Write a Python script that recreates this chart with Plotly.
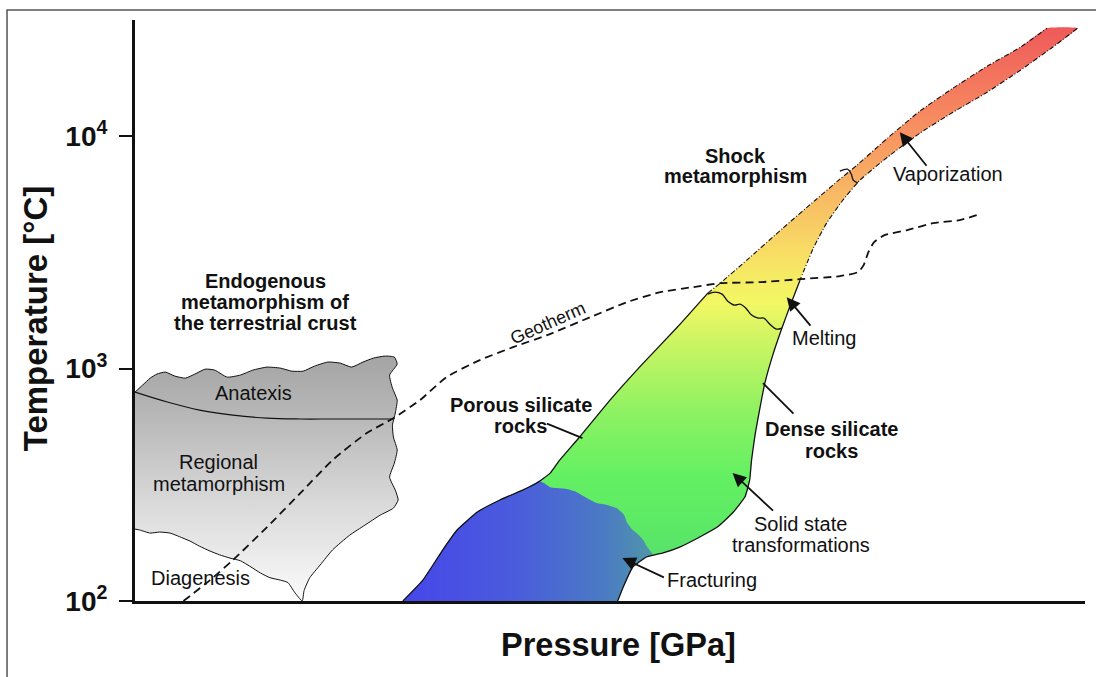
import plotly.graph_objects as go

# ---------------- data (pressure in relative units, temperature in °C) ----------------
# Endogenous metamorphism field (grey), closed outline
gray_p = [0, 0.8, 1.6, 2.3, 3.2, 4.2, 5.3, 6.3, 7.4, 8.4, 9.7, 11.1, 12.4, 13.9, 15.3, 16.5, 17.7, 18.9,
          20.3, 21.6, 22.8, 24.0, 25.1, 26.3, 27.3, 27.6, 26.8, 27.1, 27.6, 27.4, 27.1, 27.2, 27.6, 27.3,
          26.8, 27.4, 27.7, 27.2, 25.8, 24.2, 22.6, 20.8, 19.5, 18.4, 17.8, 17.6, 16.8, 16.1, 15.3, 14.2,
          13.2, 12.1, 11.1, 10.0, 8.9, 7.9, 6.8, 5.8, 4.7, 3.7, 2.6, 1.6, 0.5, 0]
gray_t = [792, 849, 910, 947, 966, 928, 910, 947, 995, 985, 919, 938, 985, 1015, 1005, 975, 975, 1025,
          1067, 1056, 1015, 1067, 1110, 1132, 1121, 1046, 938, 824, 732, 644, 571, 508, 446, 392,
          341, 300, 272, 251, 234, 212, 192, 166, 143, 126, 111, 100, 109, 120, 123, 126,
          132, 141, 149, 153, 158, 164, 172, 181, 189, 196, 198, 196, 202, 204]

anat_p = [0, 3.4, 6.8, 10.3, 13.9, 17.4, 20.8, 27.2]
anat_t = [792, 718, 663, 631, 612, 607, 607, 607]

# Shock metamorphism band
band_left_p = [28.2, 30.3, 32.4, 33.9, 36.0, 38.4, 40.8, 42.3, 43.7, 44.7, 46.8, 50.0, 53.5, 57.1, 60.3]
band_left_t = [100, 123, 166, 202, 241, 272, 300, 322, 355, 404, 508, 732, 1056, 1509, 2112]
band_upleft_p = [60.3, 61.6, 64.4, 68.2, 71.6, 74.2, 76.0, 79.2, 82.6, 86.1, 89.7, 93.2, 96.0]
band_upleft_t = [2112, 2331, 2929, 4021, 5303, 6533, 7504, 9804, 12810, 16090, 20000, 24150, 29140]
band_upright_p = [99.2, 96.6, 93.2, 89.7, 86.1, 82.6, 79.2, 76.3, 74.5, 72.8, 71.4, 70.0]
band_upright_t = [29140, 24150, 19230, 15460, 12680, 10300, 8122, 6468, 5303, 4226, 3300, 2402]
band_right_p = [70.0, 68.9, 68.1, 67.2, 66.3, 65.8, 65.3, 64.9, 64.7, 64.2, 62.9, 61.3, 59.5, 57.4,
                55.6, 53.9, 52.4, 51.4, 50.8]
band_right_t = [2402, 1838, 1494, 1166, 866, 683, 528, 404, 331, 280, 239, 208, 189, 171,
                161, 155, 140, 115, 100]

# Fracturing (blue) sub-field
blue_p = [28.2, 30.3, 32.4, 33.9, 36.0, 38.4, 40.8, 42.6, 43.7, 44.4, 45.5, 46.5, 47.6, 48.6, 49.7,
          50.7, 51.5, 51.8, 52.4, 52.8, 53.5, 53.9, 54.5, 53.9, 52.4, 51.4, 50.8]
blue_t = [100, 123, 166, 202, 241, 272, 300, 328, 309, 306, 303, 294, 277, 264, 259,
          251, 234, 217, 202, 196, 183, 171, 158, 155, 140, 115, 100]

# Melting and vaporization boundaries
melt_p = [60.3, 61.05, 61.8, 62.4, 63.1, 63.7, 64.3, 64.9, 65.6, 66.2, 66.8, 67.5, 68.1]
melt_t = [2091, 2133, 2091, 1951, 1876, 1894, 1820, 1699, 1649, 1649, 1554, 1479, 1494]
vap_p = [74.2, 75.0, 75.4, 75.6, 76.1]
vap_t = [7072, 7213, 6865, 6468, 6279]

# Geotherm
geo_p = [5.1, 7.9, 10.3, 13.9, 17.4, 20.8, 24.4, 27.2, 30.0, 32.8, 36.3, 39.8, 43.4, 48.2, 51.8,
         55.3, 58.7, 61.6, 65.8, 70.0, 74.2, 76.1, 76.7, 77.2, 77.8, 78.9, 81.3, 84.0, 86.8, 88.6]
geo_t = [100, 123, 150, 208, 291, 404, 528, 612, 732, 919, 1088, 1237, 1394, 1682, 1932,
         2133, 2241, 2331, 2355, 2426, 2499, 2601, 2788, 3170, 3501, 3752, 3943, 4226, 4353, 4574]

tick_vals = [100, 1000, 10000]
tick_text = ["<b>10<sup>2</sup></b>", "<b>10<sup>3</sup></b>", "<b>10<sup>4</sup></b>"]

# ---------------- figure ----------------
FONT = "Liberation Sans, Arial, sans-serif"
INK = "#111111"
fig = go.Figure()

fig.add_trace(go.Scatter(
    x=gray_p, y=gray_t, mode="lines", fill="toself",
    fillgradient=dict(type="vertical",
                      colorscale=[[0, "#fbfbfb"], [0.4, "#d9d9d9"], [0.75, "#b8b8b8"], [1, "#a4a4a4"]]),
    line=dict(color=INK, width=1, shape="spline", smoothing=0.5), hoverinfo="skip"))
fig.add_trace(go.Scatter(x=anat_p, y=anat_t, mode="lines",
                         line=dict(color=INK, width=1.2, shape="spline"), hoverinfo="skip"))

band_p = band_left_p + band_upleft_p[1:] + band_upright_p + band_right_p[1:]
band_t = band_left_t + band_upleft_t[1:] + band_upright_t + band_right_t[1:]
fig.add_trace(go.Scatter(
    x=band_p, y=band_t, mode="lines", fill="toself",
    fillgradient=dict(type="vertical", colorscale=[
        [0.0, "#52d27a"], [0.12, "#5be866"], [0.22, "#64f062"], [0.33, "#8ef262"],
        [0.44, "#c6f462"], [0.52, "#f2f864"], [0.60, "#f8e064"], [0.70, "#f8bc64"],
        [0.80, "#f89862"], [0.90, "#f4785e"], [1.0, "#ee5a5a"]]),
    line=dict(width=0, shape="spline", smoothing=0.4), hoverinfo="skip"))

fig.add_trace(go.Scatter(
    x=blue_p, y=blue_t, mode="lines", fill="toself",
    fillgradient=dict(type="horizontal", colorscale=[
        [0, "#4646ea"], [0.45, "#4a5cdc"], [0.8, "#4b7ac4"], [1, "#4f96aa"]]),
    line=dict(width=0, shape="spline", smoothing=0.4), hoverinfo="skip"))

fig.add_trace(go.Scatter(x=band_left_p, y=band_left_t, mode="lines",
                         line=dict(color=INK, width=1.3, shape="spline", smoothing=0.4), hoverinfo="skip"))
fig.add_trace(go.Scatter(x=band_right_p, y=band_right_t, mode="lines",
                         line=dict(color=INK, width=1.3, shape="spline", smoothing=0.4), hoverinfo="skip"))
fig.add_trace(go.Scatter(x=band_upleft_p, y=band_upleft_t, mode="lines",
                         line=dict(color=INK, width=1.1, dash="5px,2px,1px,2px", shape="spline", smoothing=0.4),
                         hoverinfo="skip"))
fig.add_trace(go.Scatter(x=band_upright_p, y=band_upright_t, mode="lines",
                         line=dict(color=INK, width=1.1, dash="5px,2px,1px,2px", shape="spline", smoothing=0.4),
                         hoverinfo="skip"))
fig.add_trace(go.Scatter(x=melt_p, y=melt_t, mode="lines",
                         line=dict(color=INK, width=1.3, shape="spline", smoothing=1), hoverinfo="skip"))
fig.add_trace(go.Scatter(x=vap_p, y=vap_t, mode="lines",
                         line=dict(color=INK, width=1.3, shape="spline", smoothing=1), hoverinfo="skip"))
fig.add_trace(go.Scatter(x=geo_p, y=geo_t, mode="lines",
                         line=dict(color=INK, width=1.8, dash="8px,5px", shape="spline", smoothing=0.6),
                         hoverinfo="skip"))

# ---------------- labels ----------------
def label(x, ylog, text, bold=False, size=20, angle=0):
    fig.add_annotation(x=x, y=ylog, xref="x", yref="y", showarrow=False,
                       text=f"<b>{text}</b>" if bold else text, textangle=angle,
                       font=dict(family=FONT, size=size, color=INK), xanchor="center", yanchor="middle")

label(13.7, 3.376, "Endogenous", bold=True)
label(13.7, 3.286, "metamorphism of", bold=True)
label(13.7, 3.196, "the terrestrial crust", bold=True)
label(63.2, 3.914, "Shock", bold=True)
label(63.2, 3.828, "metamorphism", bold=True)
label(40.6, 2.845, "Porous silicate", bold=True)
label(40.6, 2.755, "rocks", bold=True)
label(73.3, 2.738, "Dense silicate", bold=True)
label(73.3, 2.647, "rocks", bold=True)
label(12.5, 2.8946, "Anatexis")
label(8.8, 2.5975, "Regional")
label(8.8, 2.5055, "metamorphism")
label(6.9, 2.0989, "Diagenesis")
label(43.5, 3.1957, "Geotherm", size=18, angle=-24)
label(72.5, 3.131, "Melting")
label(85.6, 3.8366, "Vaporization")
label(70.1, 2.331, "Solid state")
label(70.1, 2.243, "transformations")
label(60.7, 2.090, "Fracturing")

def pointer(x, ylog, ax, ay, head=True):
    fig.add_annotation(x=x, y=ylog, xref="x", yref="y", text="", showarrow=True,
                       ax=ax, ay=ay, arrowhead=2 if head else 0, arrowsize=1.5,
                       arrowwidth=1.8, arrowcolor=INK, standoff=0, startstandoff=0)

pointer(80.5, 4.0172, 28, 35)
pointer(68.6, 3.3075, 25, 30)
pointer(62.9, 2.5505, 42, 39)
pointer(51.3, 2.1849, 43, 20)
pointer(66.1, 2.9376, 32, 32, head=False)
pointer(47.1, 2.7011, -37, -15, head=False)

# axis titles
fig.add_annotation(x=-0.105, y=0.487, xref="paper", yref="paper", showarrow=False,
                   text="<b>Temperature [°C]</b>", textangle=-90,
                   font=dict(family=FONT, size=33, color=INK), xanchor="center", yanchor="middle")
fig.add_annotation(x=0.509, y=-0.0757, xref="paper", yref="paper", showarrow=False,
                   text="<b>Pressure [GPa]</b>",
                   font=dict(family=FONT, size=32.5, color=INK), xanchor="center", yanchor="middle")

# outer frame
fig.add_shape(type="rect", xref="paper", yref="paper", x0=-0.1347, x1=1.2, y0=-0.3, y1=1.0172,
              line=dict(color="#555555", width=1.5), fillcolor="rgba(0,0,0,0)", layer="below")

fig.update_layout(
    width=1096, height=677, paper_bgcolor="white", plot_bgcolor="white",
    margin=dict(l=135, r=11, t=20, b=76), showlegend=False,
    xaxis=dict(range=[0, 100], showline=True, linecolor=INK, linewidth=3, showgrid=False,
               zeroline=False, showticklabels=False, ticks=""),
    yaxis=dict(type="log", range=[2, 4.5], showline=True, linecolor=INK, linewidth=3,
               showgrid=False, zeroline=False, ticks="outside", ticklen=13, tickwidth=2,
               tickcolor=INK, tickvals=tick_vals, ticktext=tick_text, ticklabelstandoff=6,
               tickfont=dict(family=FONT, size=28, color=INK)),
)

fig.write_html("out.html", config={"displayModeBar": False},
               post_script="document.body.style.margin='0px';")
